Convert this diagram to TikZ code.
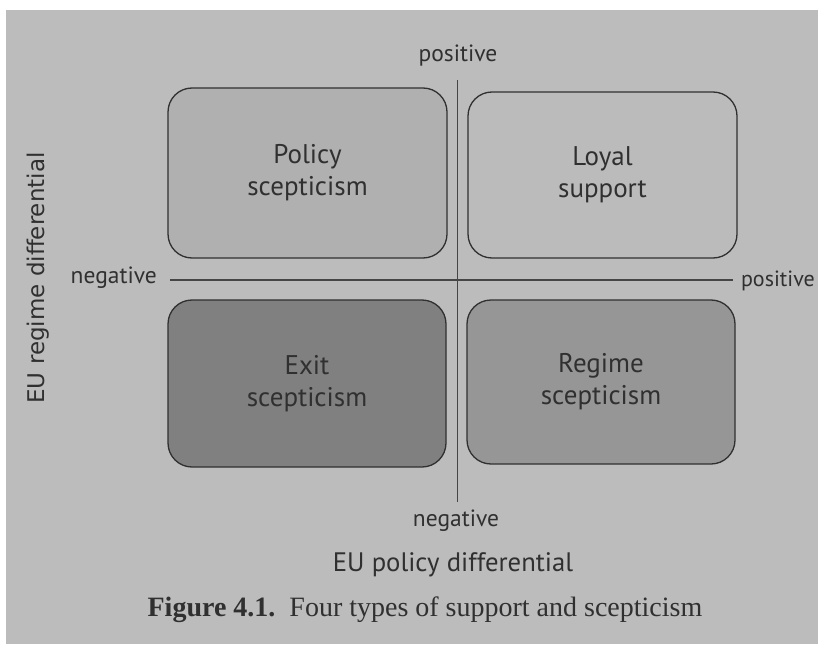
\documentclass[tikz,border=0pt]{standalone}
\usepackage{fontspec}
\newfontfamily\lab{PT Sans}
\newfontfamily\ylab{DejaVu Sans}
\newfontfamily\capf{Liberation Serif}
\definecolor{page}{RGB}{188,188,188}
\definecolor{fillA}{RGB}{176,176,176}
\definecolor{fillB}{RGB}{187,187,187}
\definecolor{fillC}{RGB}{128,128,128}
\definecolor{fillD}{RGB}{150,150,150}
\definecolor{ink}{RGB}{48,48,48}
\tikzset{
  quad/.style={draw=ink, line width=1.3pt, rounded corners=24pt, align=center,
    font=\lab\fontsize{27}{32}\selectfont, text=ink, inner sep=0pt},
  axislab/.style={font=\lab\fontsize{23.5}{27}\selectfont, text=ink, inner sep=0pt},
  axisline/.style={draw=ink!90, line width=1.1pt},
}
\begin{document}
\begin{tikzpicture}[x=1pt,y=-1pt]
\useasboundingbox (0,0) rectangle (818,660);
\fill[white] (0,0) rectangle (818,660);
\fill[page] (6,10) rectangle (818,644);
% quadrants
\node[quad, fill=fillA, minimum width=279pt, minimum height=170pt] (tl) at (307.5,173) {Policy\\scepticism};
\node[quad, fill=fillB, minimum width=269pt, minimum height=166pt] (tr) at (602.5,175) {Loyal\\support};
\node[quad, fill=fillC, minimum width=278pt, minimum height=167pt] (bl) at (307,383.5) {Exit\\scepticism};
\node[quad, fill=fillD, minimum width=268pt, minimum height=164pt] (br) at (601,382) {Regime\\scepticism};
% axes
\coordinate (vtop) at (457.5,80);
\coordinate (vbot) at (457.5,502);
\coordinate (hleft) at (170,280);
\coordinate (hright) at (733,280);
\draw[axisline] (vtop) -- (vbot);
\draw[axisline] (hleft) -- (hright);
% axis labels
\node[axislab] (ptop) at (458,56) {positive};
\node[axislab] (nbot) at (456,521) {negative};
\node[axislab, anchor=east] (nleft) at (157,278) {negative};
\node[axislab, anchor=east, font=\lab\fontsize{22}{26}\selectfont] (pright) at (815,281) {positive};
\node[font=\lab\fontsize{26.7}{30}\selectfont, text=ink, inner sep=0pt] (xt) at (453,565) {EU policy differential};
\node[font=\ylab\fontsize{23}{26}\selectfont, text=ink, inner sep=0pt, rotate=90] (yt) at (38,278) {EU regime differential};
% caption
\node[font=\capf\fontsize{28}{32}\selectfont, text=ink, inner sep=0pt] (cap) at (425,610) {\textbf{Figure 4.1.}\ \ Four types of support and scepticism};
\end{tikzpicture}
\end{document}
